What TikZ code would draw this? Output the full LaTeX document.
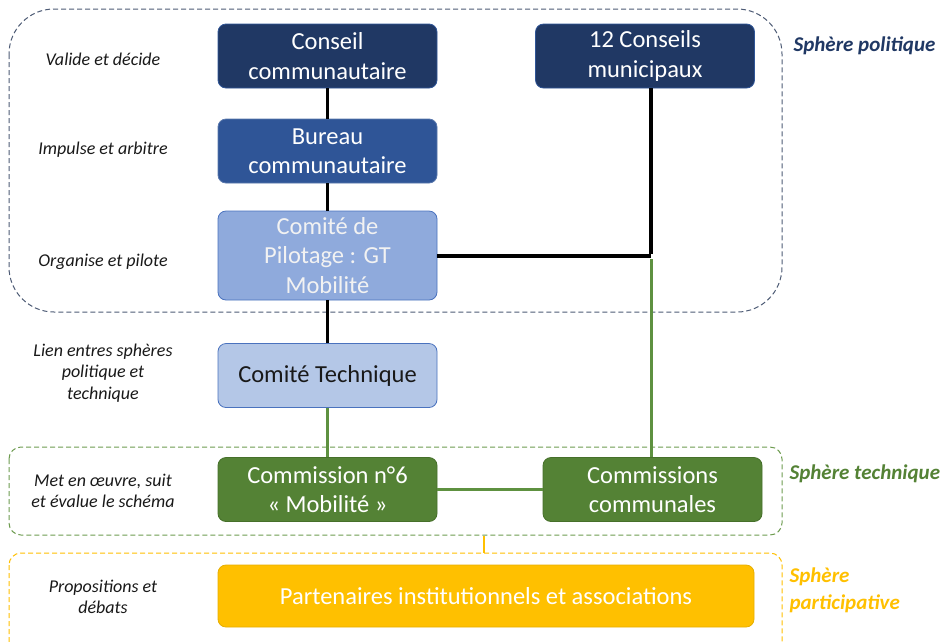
\documentclass[tikz,border=0pt]{standalone}
\usepackage{fontspec}
\setmainfont{Carlito}
\begin{document}
\begin{tikzpicture}[x=1pt,y=-1pt,
  box/.style={rounded corners=8pt, minimum width=219pt, minimum height=64pt, align=center, line width=0.8pt,
    font=\fontsize{24.5}{29.5}\selectfont, inner sep=2pt},
  lbl/.style={align=center, font=\fontsize{18}{21.5}\selectfont\itshape, text=black!90},
  sph/.style={align=left, anchor=west, font=\fontsize{21}{27}\selectfont\bfseries\itshape},
  region/.style={dashed, dash pattern=on 5pt off 3pt, line width=1pt},
  blk/.style={line width=3.5pt, black},
  grn/.style={line width=3pt, color=lgreen}]
\definecolor{navy}{HTML}{203864}
\definecolor{bureau}{HTML}{2F5597}
\definecolor{pilfill}{HTML}{8FAADC}
\definecolor{techfill}{HTML}{B4C7E7}
\definecolor{bluebd}{HTML}{4A72BE}
\definecolor{dgreen}{HTML}{548235}
\definecolor{dgreenbd}{HTML}{46702A}
\definecolor{lgreen}{HTML}{5E9140}
\definecolor{orange}{HTML}{FFC000}
\definecolor{orangebd}{HTML}{E6AE00}
\definecolor{polregion}{HTML}{4D5B75}
\definecolor{techregion}{HTML}{6E9C50}
\useasboundingbox (0,0) rectangle (947,641);
\fill[white] (0,0) rectangle (947,641);

% regions
\draw[region, color=polregion, rounded corners=45pt] (9,9) rectangle (782,312);
\draw[region, color=techregion, rounded corners=12pt] (9,447) rectangle (782,535);
\begin{scope}
\clip (0,0) rectangle (947,641);
\draw[region, color=orange, rounded corners=12pt] (9,553) rectangle (782,670);
\end{scope}

% boxes
\node[box, fill=navy, draw=bureau, text=white] (cc) at (327.5,56) {Conseil\\communautaire};
\node[box, fill=navy, draw=bureau, text=white] (cm) at (645,56) {12 Conseils\\municipaux};
\node[box, fill=bureau, draw=bureau!80!white, text=white] (bc) at (327.5,151) {Bureau\\communautaire};
\node[box, fill=pilfill, draw=bluebd, text=white!95!black, minimum height=89pt] (cp) at (327.5,255.5) {Comité de\\Pilotage : GT\\Mobilité};
\node[box, fill=techfill, draw=bluebd, text=black!90] (ct) at (327.5,375.5) {Comité Technique};
\node[box, fill=dgreen, draw=dgreenbd, text=white] (c6) at (327.5,489.5) {Commission n°6\\« Mobilité »};
\node[box, fill=dgreen, draw=dgreenbd, text=white] (cco) at (652.5,489.5) {Commissions\\communales};
\node[box, fill=orange, draw=orangebd, text=white, minimum width=536pt, minimum height=62pt] (pa) at (486,596) {Partenaires institutionnels et associations};

% connectors
\coordinate (j) at (651,256);
\coordinate (jg) at (651,259);
\coordinate (o1) at (484,536);
\coordinate (o2) at (484,553);
\draw[blk] (cc.south) -- (bc.north);
\draw[blk] (bc.south) -- (cp.north);
\draw[blk] (cp.south) -- (ct.north);
\draw[grn] (ct.south) -- (c6.north);
\draw[blk] (cp.east |- j) -- (j);
\draw[blk] (cm.south -| j) -- ([yshift=1.75pt]j);
\draw[grn] (jg) -- (cco.north -| jg);
\draw[grn] (c6.east) -- (cco.west);
\draw[line width=2.8pt, color=orange] (o1) -- (o2);

% left labels
\node[lbl] (l1) at (103,59) {Valide et décide};
\node[lbl] (l2) at (103,150) {Impulse et arbitre};
\node[lbl] (l3) at (103,262) {Organise et pilote};
\node[lbl] (l4) at (103,373) {Lien entres sphères\\politique et\\technique};
\node[lbl] (l5) at (103,491) {Met en œuvre, suit\\et évalue le schéma};
\node[lbl] (l6) at (103,597) {Propositions et\\débats};

% sphere labels
\node[sph, text=navy] (s1) at (790,46) {Sphère politique};
\node[sph, text=dgreen] (s2) at (786,474) {Sphère technique};
\node[sph, text=orange] (s3) at (786,590) {Sphère\\participative};
\end{tikzpicture}
\end{document}
